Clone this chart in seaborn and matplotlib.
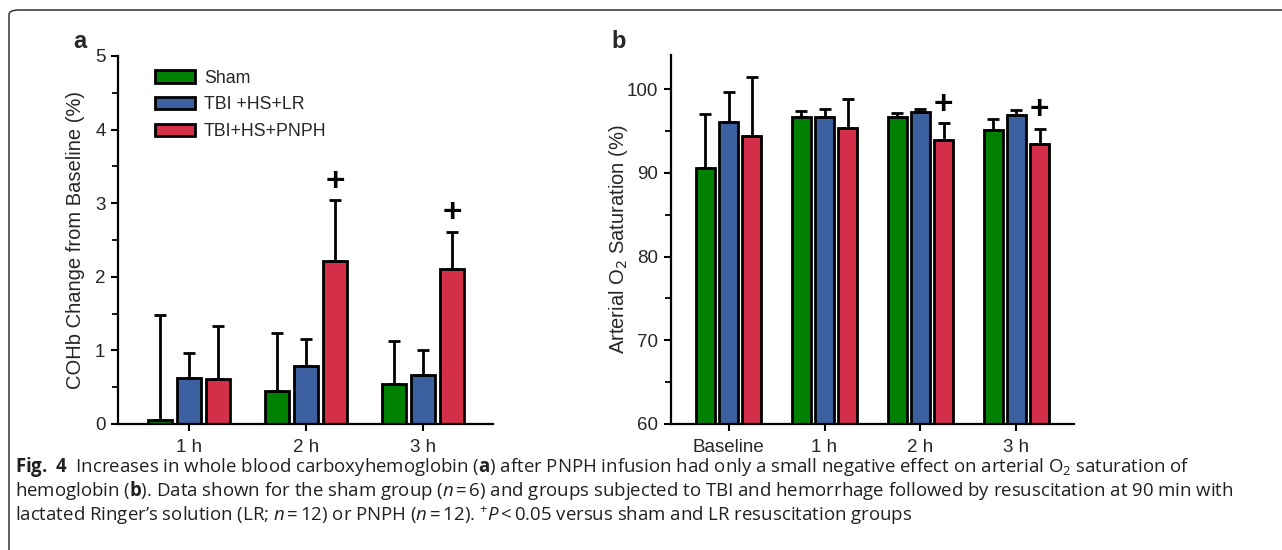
import numpy as np
import pandas as pd
import matplotlib
matplotlib.use("Agg")
import matplotlib.pyplot as plt
from matplotlib.patches import FancyBboxPatch, Patch
import seaborn as sns

# ---------------- data ----------------
groups = ["Sham", "TBI +HS+LR", "TBI+HS+PNPH"]
colors = ["#008000", "#3c60a0", "#d32f48"]

times_a = ["1 h", "2 h", "3 h"]
cohb_sham = [0.05, 0.45, 0.54]
cohb_lr = [0.62, 0.79, 0.66]
cohb_pnph = [0.61, 2.21, 2.10]
cohb_err_sham = [1.43, 0.79, 0.59]
cohb_err_lr = [0.35, 0.36, 0.34]
cohb_err_pnph = [0.72, 0.83, 0.51]
sig_a = [False, True, True]

times_b = ["Baseline", "1 h", "2 h", "3 h"]
sat_sham = [90.55, 96.65, 96.65, 95.15]
sat_lr = [96.05, 96.65, 97.25, 96.95]
sat_pnph = [94.45, 95.35, 93.90, 93.45]
sat_err_sham = [6.45, 0.75, 0.55, 1.35]
sat_err_lr = [3.60, 1.05, 0.40, 0.55]
sat_err_pnph = [7.00, 3.45, 2.05, 1.80]
sig_b = [False, False, True, True]

caption1 = (r"$\mathbf{Fig.\ 4}$  Increases in whole blood carboxyhemoglobin ($\mathbf{a}$) after PNPH infusion "
            r"had only a small negative effect on arterial O$_2$ saturation of")
caption2 = (r"hemoglobin ($\mathbf{b}$). Data shown for the sham group ($\mathit{n}$$\,$=$\,$6) and groups subjected "
            r"to TBI and hemorrhage followed by resuscitation at 90 min with")
caption3 = (r"lactated Ringer’s solution (LR; $\mathit{n}$$\,$=$\,$12) or PNPH ($\mathit{n}$$\,$=$\,$12). "
            r"$^{+}$$\mathit{P}$$\,$<$\,$0.05 versus sham and LR resuscitation groups")

# ---------------- style ----------------
sns.set_theme(style="ticks")
plt.rcParams["font.family"] = ["Liberation Sans", "DejaVu Sans"]
plt.rcParams["mathtext.fontset"] = "custom"
plt.rcParams["mathtext.rm"] = "Open Sans"
plt.rcParams["mathtext.bf"] = "Open Sans:bold"
plt.rcParams["mathtext.it"] = "Open Sans:italic"

fig = plt.figure(figsize=(12.82, 5.5), dpi=100)
W, H = 1282.0, 550.0


def axes_px(l, t, r, b):
    return fig.add_axes([l / W, 1 - b / H, (r - l) / W, (b - t) / H])


ax_a = axes_px(118, 56, 493, 424)
ax_b = axes_px(671, 55, 1074, 424)


def make_df(times, vals_list, errs_list):
    rows = []
    for g, vals, errs in zip(groups, vals_list, errs_list):
        for t, v, e in zip(times, vals, errs):
            rows.append({"time": t, "group": g, "value": v, "err": e})
    return pd.DataFrame(rows)


def draw(ax, times, vals_list, errs_list, sig, width):
    df = make_df(times, vals_list, errs_list)
    sns.barplot(data=df, x="time", y="value", hue="group", order=times,
                hue_order=groups, palette=colors, width=width, gap=0.18,
                edgecolor="black", linewidth=2.0, errorbar=None,
                saturation=1, legend=False, ax=ax)
    patches = list(ax.patches)
    tops = []
    for gi, g in enumerate(groups):
        sub = df[df["group"] == g]
        for ti, t in enumerate(times):
            p = patches[gi * len(times) + ti]
            xc = p.get_x() + p.get_width() / 2
            v = sub["value"].iloc[ti]
            e = sub["err"].iloc[ti]
            ax.errorbar([xc], [v], yerr=[[0], [e]], fmt="none", ecolor="black",
                        elinewidth=2.0, capsize=4.6, capthick=2.0, zorder=1)
            if gi == 2 and sig[ti]:
                tops.append((xc, v + e))
    for xc, y in tops:
        ax.annotate("+", xy=(xc, y), xytext=(0, 13), textcoords="offset points",
                    ha="center", va="center", fontsize=24, fontweight="bold",
                    color="black")
    return df


draw(ax_a, times_a, [cohb_sham, cohb_lr, cohb_pnph],
     [cohb_err_sham, cohb_err_lr, cohb_err_pnph], sig_a, 0.75)
draw(ax_b, times_b, [sat_sham, sat_lr, sat_pnph],
     [sat_err_sham, sat_err_lr, sat_err_pnph], sig_b, 0.73)

ax_a.set_xlim(-0.607, 2.6)
ax_a.set_ylim(0, 5)
ax_b.set_xlim(-0.6, 3.6)
ax_b.set_ylim(60, 104.1)

ax_a.set_yticks([0, 1, 2, 3, 4, 5])
ax_a.set_yticks(np.arange(0.5, 5, 1.0), minor=True)
ax_b.set_yticks([60, 70, 80, 90, 100])
ax_b.set_yticks([65, 75, 85, 95], minor=True)

for ax in (ax_a, ax_b):
    sns.despine(ax=ax)
    for s in ("left", "bottom"):
        ax.spines[s].set_linewidth(1.6)
        ax.spines[s].set_color("black")
    ax.set_xlabel("")
    ax.tick_params(axis="both", which="major", direction="out", length=5,
                   width=1.5, color="black", labelsize=13.5, pad=4)
    ax.tick_params(axis="x", which="major", pad=6)
    ax.tick_params(axis="y", which="minor", direction="out", length=4,
                   width=1.3, color="black")

ax_a.set_ylabel("COHb Change from Baseline (%)", fontsize=14.5, labelpad=7)
ax_b.set_ylabel("Arterial O$_2$ Saturation (%)", fontsize=14.5, labelpad=-2)
ax_b.yaxis.label.set_math_fontfamily("dejavusans")

# legend
handles = [Patch(facecolor=c, edgecolor="black", linewidth=2.0, label=g)
           for g, c in zip(groups, colors)]
ax_a.legend(handles=handles, loc="upper left", bbox_to_anchor=(0.099, 0.963),
            frameon=False, fontsize=12.8, handlelength=2.25, handleheight=0.7,
            handletextpad=0.5, labelspacing=0.55, borderaxespad=0,
            borderpad=0)

# panel letters
fig.text(80 / W, 1 - 42 / H, "a", fontsize=17, fontweight="bold",
         ha="center", va="center")
fig.text(619 / W, 1 - 42 / H, "b", fontsize=17, fontweight="bold",
         ha="center", va="center")

# caption
cap_kw = dict(fontsize=13.4, family=["Open Sans", "DejaVu Sans"],
              ha="left", va="baseline", color="#231f20")
fig.text(15 / W, 1 - 472 / H, caption1, **cap_kw)
fig.text(15 / W, 1 - 496.5 / H, caption2, **cap_kw)
fig.text(15 / W, 1 - 521 / H, caption3, **cap_kw)

# outer rounded frame
frame = FancyBboxPatch((9 / W, -20 / H), 1400 / W, (550 - 10 + 20) / H,
                       boxstyle="round,pad=0,rounding_size=0.008",
                       transform=fig.transFigure, facecolor="none",
                       edgecolor="#333333", linewidth=1.1, clip_on=False)
fig.add_artist(frame)

fig.savefig("out.png", dpi=100)
